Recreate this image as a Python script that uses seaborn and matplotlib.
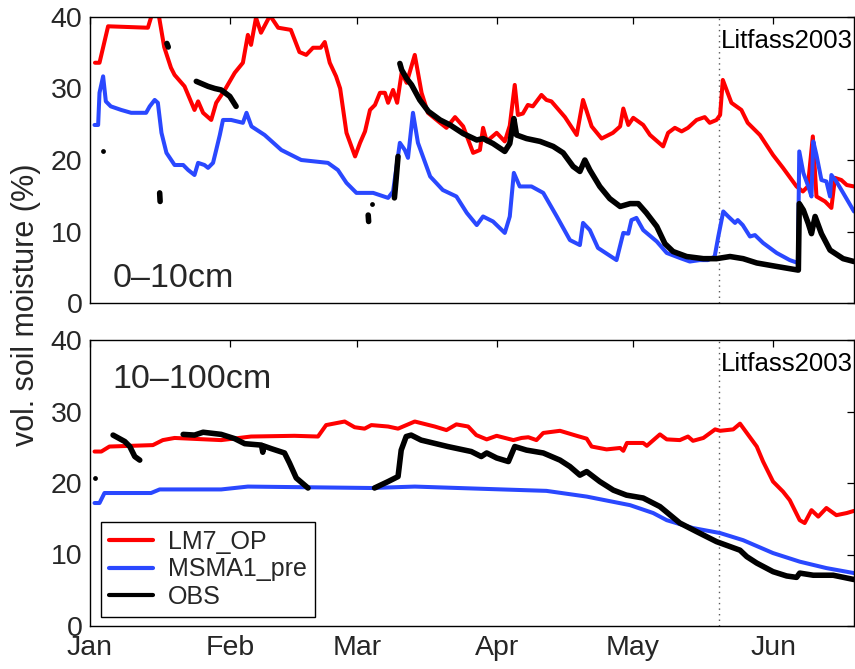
import numpy as np
import pandas as pd
import matplotlib
matplotlib.use("Agg")
import matplotlib.pyplot as plt
import matplotlib.dates as mdates
from matplotlib.lines import Line2D
import seaborn as sns

# ---------------- data: day of year 2003 (0 = 1 Jan) and vol. soil moisture (%) ----------------
START = pd.Timestamp("2003-01-01")
END_DAY = 168.9
MARK_DAY = 139.0  # dotted marker line (20 May)

# 0-10 cm layer
top_lm7_day = [1.1, 2.1, 4, 12.8, 14, 15, 16.4, 17.9, 18.7, 20.9, 23.1, 23.9, 25, 26.8, 27.9, 29.8, 32, 33.8,
               34.9, 35.6, 36.7, 37.8, 39.8, 41.6, 44.4, 46.3, 47.8, 49.3, 51, 51.9, 53, 54.4, 55.3, 56.7,
               58.6, 59.7, 60.8, 61.9, 63, 64.1, 65.2, 65.9, 67, 67.9, 68.9, 70, 71.8, 73.3, 74.7, 77.4,
               78.8, 80.7, 82.5, 84.7, 86.2, 86.9, 87.7, 89.9, 91.7, 92.8, 93.9, 94.6, 95.7, 96.8, 97.9,
               99.8, 100.9, 102, 105, 107.6, 109, 110.9, 113.1, 115.6, 117.2, 117.9, 119, 120.1, 122.3,
               123.8, 126.7, 127.8, 129.3, 130.8, 132.2, 134.1, 135.9, 137, 138.5, 139.3, 139.9, 141.8,
               144, 145.4, 148.1, 151, 153.2, 156.2, 157.6, 158.7, 159.8, 160.6, 162.5, 163.9, 164.7,
               166.1, 167.3, 168.9]
top_lm7_val = [33.6, 33.6, 38.7, 38.5, 41, 41, 35.8, 32.9, 31.9, 30.3, 27, 28.2, 26.6, 25.6, 28, 29.8, 32.2, 33.6,
               37.5, 36.1, 39.9, 37.8, 40.2, 38.5, 38.2, 35.1, 34.7, 35.7, 35.7, 36.5, 33.6, 31.7, 30, 23.8,
               20.5, 22.4, 24, 27, 27.7, 29.4, 29.4, 28, 29.8, 28, 32.2, 30.8, 34.7, 29.4, 26.6, 25.2,
               24.5, 26, 24.7, 21, 21.4, 24.5, 22.6, 23.8, 22.6, 24.8, 30.5, 26.3, 26.5, 27.7, 27.5,
               29.1, 28.4, 28.2, 26, 23.5, 28.4, 24.7, 23, 23.8, 24.7, 27.2, 24.9, 25.9, 24.9,
               23.5, 21.9, 23.8, 24.5, 24, 24.5, 25.6, 26, 25.2, 25.6, 26.3, 31.2, 28,
               27, 25.2, 23.5, 20.7, 18.9, 16.3, 15.6, 16.3, 23.3, 14.9, 14.2, 13.3, 17.5,
               17.2, 16.5, 16.3]

top_msma_day = [1, 1.8, 2.1, 2.9, 3.5, 4.6, 6.9, 9.1, 12.4, 13.2, 14.3, 15, 15.8, 16.9, 18.7, 20.6, 21.7, 23.1,
                23.9, 25.3, 26.1, 27.2, 27.9, 28.7, 29.4, 31.2, 33.8, 34.6, 35.7, 38.6, 42.3, 46.7, 52.6,
                54.8, 56.7, 58.9, 62.6, 65.9, 67, 68.5, 69.6, 70.3, 71.4, 72.5, 75.2, 78, 81, 83.3, 85.5,
                86.9, 89.1, 91.7, 92.8, 93.7, 95, 97.6, 100.2, 103.2, 106.1, 108.3, 109, 110.5, 112.3,
                116.4, 117.9, 119, 119.7, 120.8, 122.3, 125.3, 127.5, 130.4, 132.6, 134.8, 136.6, 138.1,
                138.9, 140, 141.1, 142.6, 143.2, 144.3, 145.9, 147, 148.8, 151.8, 154.7, 156.5, 156.8,
                157.7, 158.8, 159.5, 159.9, 160.6, 161.7, 162.8, 163.6, 163.9, 165, 166.5, 168.9]
top_msma_val = [24.9, 24.9, 29.4, 31.7, 28.2, 27.5, 27, 26.6, 26.6, 27.5, 28.4, 28, 23.8, 21, 19.3, 19.3, 18.6, 17.9,
                19.6, 19.3, 18.9, 19.6, 21.4, 23.5, 25.6, 25.6, 25.2, 26.6, 24.7, 23.5, 21.4, 20, 19.6,
                18.6, 16.8, 15.4, 15.4, 14.7, 15.6, 22.4, 21.4, 20.3, 26.6, 22.4, 17.7, 15.8, 14.9, 12.6, 10.9,
                12.1, 11.4, 9.8, 12.1, 18.2, 16.3, 16.3, 15.4, 12.1, 8.8, 8.1, 11.2, 10.2, 7.7,
                6, 9.8, 9.7, 11.6, 11.9, 10.2, 8.6, 7, 6.3, 5.8, 6, 6, 6.5,
                9.3, 12.8, 12.1, 11.2, 11.6, 10.9, 9.3, 9.5, 8.4, 7, 6, 5.6, 21.2,
                18.2, 16.3, 14.9, 22.6, 20.7, 17.2, 17, 14.9, 17.9, 17, 15.4, 12.8]

# observations come in separate pieces (gaps in the record); counts give points per piece
top_obs_counts = [2, 2, 6, 2, 3, 51]
top_obs_day = [15.4, 15.5, 17.0, 17.3, 23.5, 26.1, 27.6, 29, 30.9, 32.3, 61.5, 61.6, 67.3, 67.7, 68.1,
               68.5, 68.9, 70, 71.1, 72.9, 74.8, 77.4, 79.6, 82.5, 85.5, 86.9, 89.1, 91.7, 92.8, 93.7,
               94.3, 96.5, 99.5, 102.4, 104.6, 106.8, 108.3, 109.4, 110.5, 112.7, 114.9, 117.2, 119.4,
               121.2, 123, 125.3, 127.1, 128.9, 131.9, 135.6, 138.5, 141.5, 144.4, 147.4, 151, 154.7,
               156.6, 156.8, 157.7, 158.8, 159.5, 160.3, 161.7, 163.6, 166.5, 168.9]
top_obs_val = [15.4, 14.2, 36.3, 35.8, 31, 30.3, 30, 29.8, 28.9, 27.5, 12.3, 11.4, 14.7, 17.5, 20.5,
               33.5, 32.6, 31.4, 30.5, 28.4, 26.8, 25.6, 24.9, 23.7, 22.8, 23, 22.3, 21.2, 22.3, 25.8,
               23.5, 23, 22.6, 21.9, 21, 19.1, 18.4, 20, 18.6, 16.3, 14.6, 13.5, 13.9,
               13.9, 12.6, 10.7, 8.3, 7.2, 6.5, 6.2, 6.2, 6.5, 6.2, 5.6, 5.2, 4.8,
               4.6, 13.9, 13, 11.1, 9.7, 12.1, 9.7, 7.4, 6.2, 5.8]
top_obs_dots_day = [2.9, 62.4]
top_obs_dots_val = [21.2, 13.8]

# 10-100 cm layer
bot_lm7_day = [1, 2.5, 4.3, 13.9, 16.1, 18.7, 29, 35.6, 45.2, 50.4, 52.2, 56.3, 58.5, 60.7, 62.2, 65.9, 68.1,
               71.8, 76.2, 78.8, 81, 83.6, 85.4, 87.7, 89.9, 93.6, 95.4, 96.9, 98.7, 100.2, 103.9, 107.6,
               109.8, 110.9, 114.2, 117.2, 117.9, 118.7, 122.3, 123.1, 126, 127.5, 130.4, 132.2, 133.3,
               135.6, 138.2, 139.3, 142.2, 143.7, 145.2, 147.4, 148.8, 151, 153.2, 154.7, 156.9, 158,
               159.5, 161, 162.8, 165, 167.3, 168.9]
bot_lm7_val = [24.4, 24.4, 25.1, 25.3, 26, 26.3, 26, 26.5, 26.6, 26.5, 28.1, 28.6, 27.8, 27.6, 28.1, 27.9, 27.6,
               28.6, 27.9, 27.4, 28.2, 27.9, 26.7, 26.1, 26.6, 26, 26.3, 26.4, 26, 27, 27.3, 26.6,
               26.2, 25.1, 24.7, 24.9, 24.5, 25.6, 25.6, 25.2, 26.8, 26.1, 26, 26.5, 25.9,
               26.3, 27.5, 27.3, 27.5, 28.3, 27, 25.1, 23, 20.2, 18.8, 17.6, 14.8, 14.4,
               16.2, 15.3, 16.5, 15.5, 15.8, 16.1]

bot_msma_day = [1, 2.1, 3.2, 13.5, 15.4, 29, 34.9, 62.2, 71.8, 86.2, 100.9, 109.8, 119.4, 124.5, 127.5,
                133.3, 139.3, 144.4, 151, 156.9, 162.8, 168.9]
bot_msma_val = [17.2, 17.2, 18.6, 18.6, 19.1, 19.1, 19.5, 19.3, 19.5, 19.2, 18.9, 18.1, 16.9, 15.8, 14.8,
                13.7, 13, 12, 10.2, 9, 8.1, 7.4]

bot_obs_counts = [5, 14, 38]
bot_obs_day = [5.1, 7.7, 8.8, 9.9, 11,
               20.6, 23.1, 25, 29, 32, 34.2, 37.9, 38.2, 38.3, 40.1, 43, 44.1, 45.6, 48.2,
               62.9, 65.9, 68.1, 68.8, 69.9, 71, 73.2, 79.1, 84.3, 86.5, 87.7, 89.9, 92.5, 93.9, 96.5,
               100.2, 103.9, 106.1, 108.3, 109.8, 112.7, 115.7, 118.6, 122.3, 126, 130.4, 134.1, 138.5,
               143.7, 145.2, 147.4, 151, 154, 156.2, 156.9, 159.9, 164.3, 168.9]
bot_obs_val = [26.7, 25.8, 25.1, 23.7, 23.2,
               26.8, 26.7, 27.1, 26.8, 26.2, 25.5, 25.3, 24.3, 25.2, 24.8, 24.2, 22.8, 20.7, 19.3,
               19.3, 20.2, 20.9, 24.6, 26.5, 26.7, 26, 25.1, 24.4, 23.7, 24.2, 23.5, 23, 25.1, 24.6,
               24.2, 23.2, 22.3, 21.1, 21.6, 20.2, 19, 18.3, 17.9, 16.7, 14.4, 13.2, 11.8,
               10.6, 9.7, 8.8, 7.6, 7, 6.8, 7.4, 7.1, 7.1, 6.5]
bot_obs_dots_day = [1.0]
bot_obs_dots_val = [20.7]

SERIES = ["LM7_OP", "MSMA1_pre", "OBS"]
COLORS = {"LM7_OP": "#ff0000", "MSMA1_pre": "#2a48ff", "OBS": "#000000"}
LAYERS = ["0\u201310cm", "10\u2013100cm"]
YTICKS = [0, 10, 20, 30, 40]


def to_dates(days):
    return START + pd.to_timedelta(np.asarray(days, dtype=float), unit="D")


def frame(days, vals, counts=None):
    df = pd.DataFrame({"date": to_dates(days), "val": vals})
    if counts is None:
        df["seg"] = 0
    else:
        df["seg"] = np.repeat(np.arange(len(counts)), counts)
    return df


# ---------------- style ----------------
sns.set_theme(style="white")
plt.rcParams["font.family"] = ["Liberation Sans", "DejaVu Sans"]
plt.rcParams["axes.edgecolor"] = "black"
plt.rcParams["axes.linewidth"] = 1.0

fig = plt.figure(figsize=(8.55, 6.69), dpi=100)
ax_top = fig.add_axes([90 / 855, 1 - 303 / 669, 764 / 855, 286 / 669])
ax_bot = fig.add_axes([90 / 855, 1 - 626 / 669, 764 / 855, 286 / 669])

panels = [
    (ax_top, frame(top_lm7_day, top_lm7_val), frame(top_msma_day, top_msma_val),
     frame(top_obs_day, top_obs_val, top_obs_counts), frame(top_obs_dots_day, top_obs_dots_val)),
    (ax_bot, frame(bot_lm7_day, bot_lm7_val), frame(bot_msma_day, bot_msma_val),
     frame(bot_obs_day, bot_obs_val, bot_obs_counts), frame(bot_obs_dots_day, bot_obs_dots_val)),
]

for ax, lm7, msma, obs, dots in panels:
    sns.lineplot(data=lm7, x="date", y="val", ax=ax, color=COLORS["LM7_OP"], lw=2.9,
                 estimator=None, sort=False, legend=False)
    sns.lineplot(data=msma, x="date", y="val", ax=ax, color=COLORS["MSMA1_pre"], lw=2.9,
                 estimator=None, sort=False, legend=False)
    sns.lineplot(data=obs, x="date", y="val", units="seg", ax=ax, color=COLORS["OBS"], lw=4.0,
                 estimator=None, sort=False, legend=False)
    sns.scatterplot(data=dots, x="date", y="val", ax=ax, color="black", s=12, linewidth=0,
                    legend=False)

    ax.axvline(to_dates([MARK_DAY])[0], color="0.35", ls=(0, (1, 3)), lw=1.0, zorder=0)
    ax.text(to_dates([MARK_DAY])[0] + pd.Timedelta(hours=12), 35.7, "Litfass2003",
            fontsize=18.5, ha="left", va="baseline", color="black")

    ax.set_xlim(START, to_dates([END_DAY])[0])
    ax.set_ylim(0, 40)
    ax.set_yticks(YTICKS)
    ax.xaxis.set_major_locator(mdates.MonthLocator())
    ax.xaxis.set_major_formatter(mdates.DateFormatter("%b"))
    ax.tick_params(direction="in", top=True, right=True, length=5, width=0.9,
                   labelsize=20.5, color="black")
    ax.tick_params(axis="y", pad=5.5)
    ax.tick_params(axis="x", pad=6.5)
    ax.set_xlabel("")
    ax.set_ylabel("")
    for sp in ax.spines.values():
        sp.set_visible(True)
        sp.set_color("black")
        sp.set_linewidth(1.0)

ax_top.tick_params(labelbottom=False)
ax_top.text(0.029, 0.055, LAYERS[0], transform=ax_top.transAxes, fontsize=24.5,
            ha="left", va="baseline")
ax_bot.text(0.029, 0.832, LAYERS[1], transform=ax_bot.transAxes, fontsize=24.5,
            ha="left", va="baseline")

handles = [Line2D([], [], color=COLORS[s], lw=3.0) for s in SERIES]
leg = ax_bot.legend(handles, SERIES, loc="lower left", bbox_to_anchor=(0.0144, 0.0315),
                    borderaxespad=0, fontsize=18, frameon=True, fancybox=False,
                    handlelength=1.75, handletextpad=0.6, labelspacing=0.14, borderpad=0.32)
leg.get_frame().set_edgecolor("black")
leg.get_frame().set_linewidth(1.0)
leg.get_frame().set_alpha(1)

fig.text(26 / 855, 1 - 305 / 669, "vol. soil moisture (%)", rotation=90, fontsize=22,
         ha="center", va="center")

fig.savefig("out.png", dpi=100, facecolor="white")
